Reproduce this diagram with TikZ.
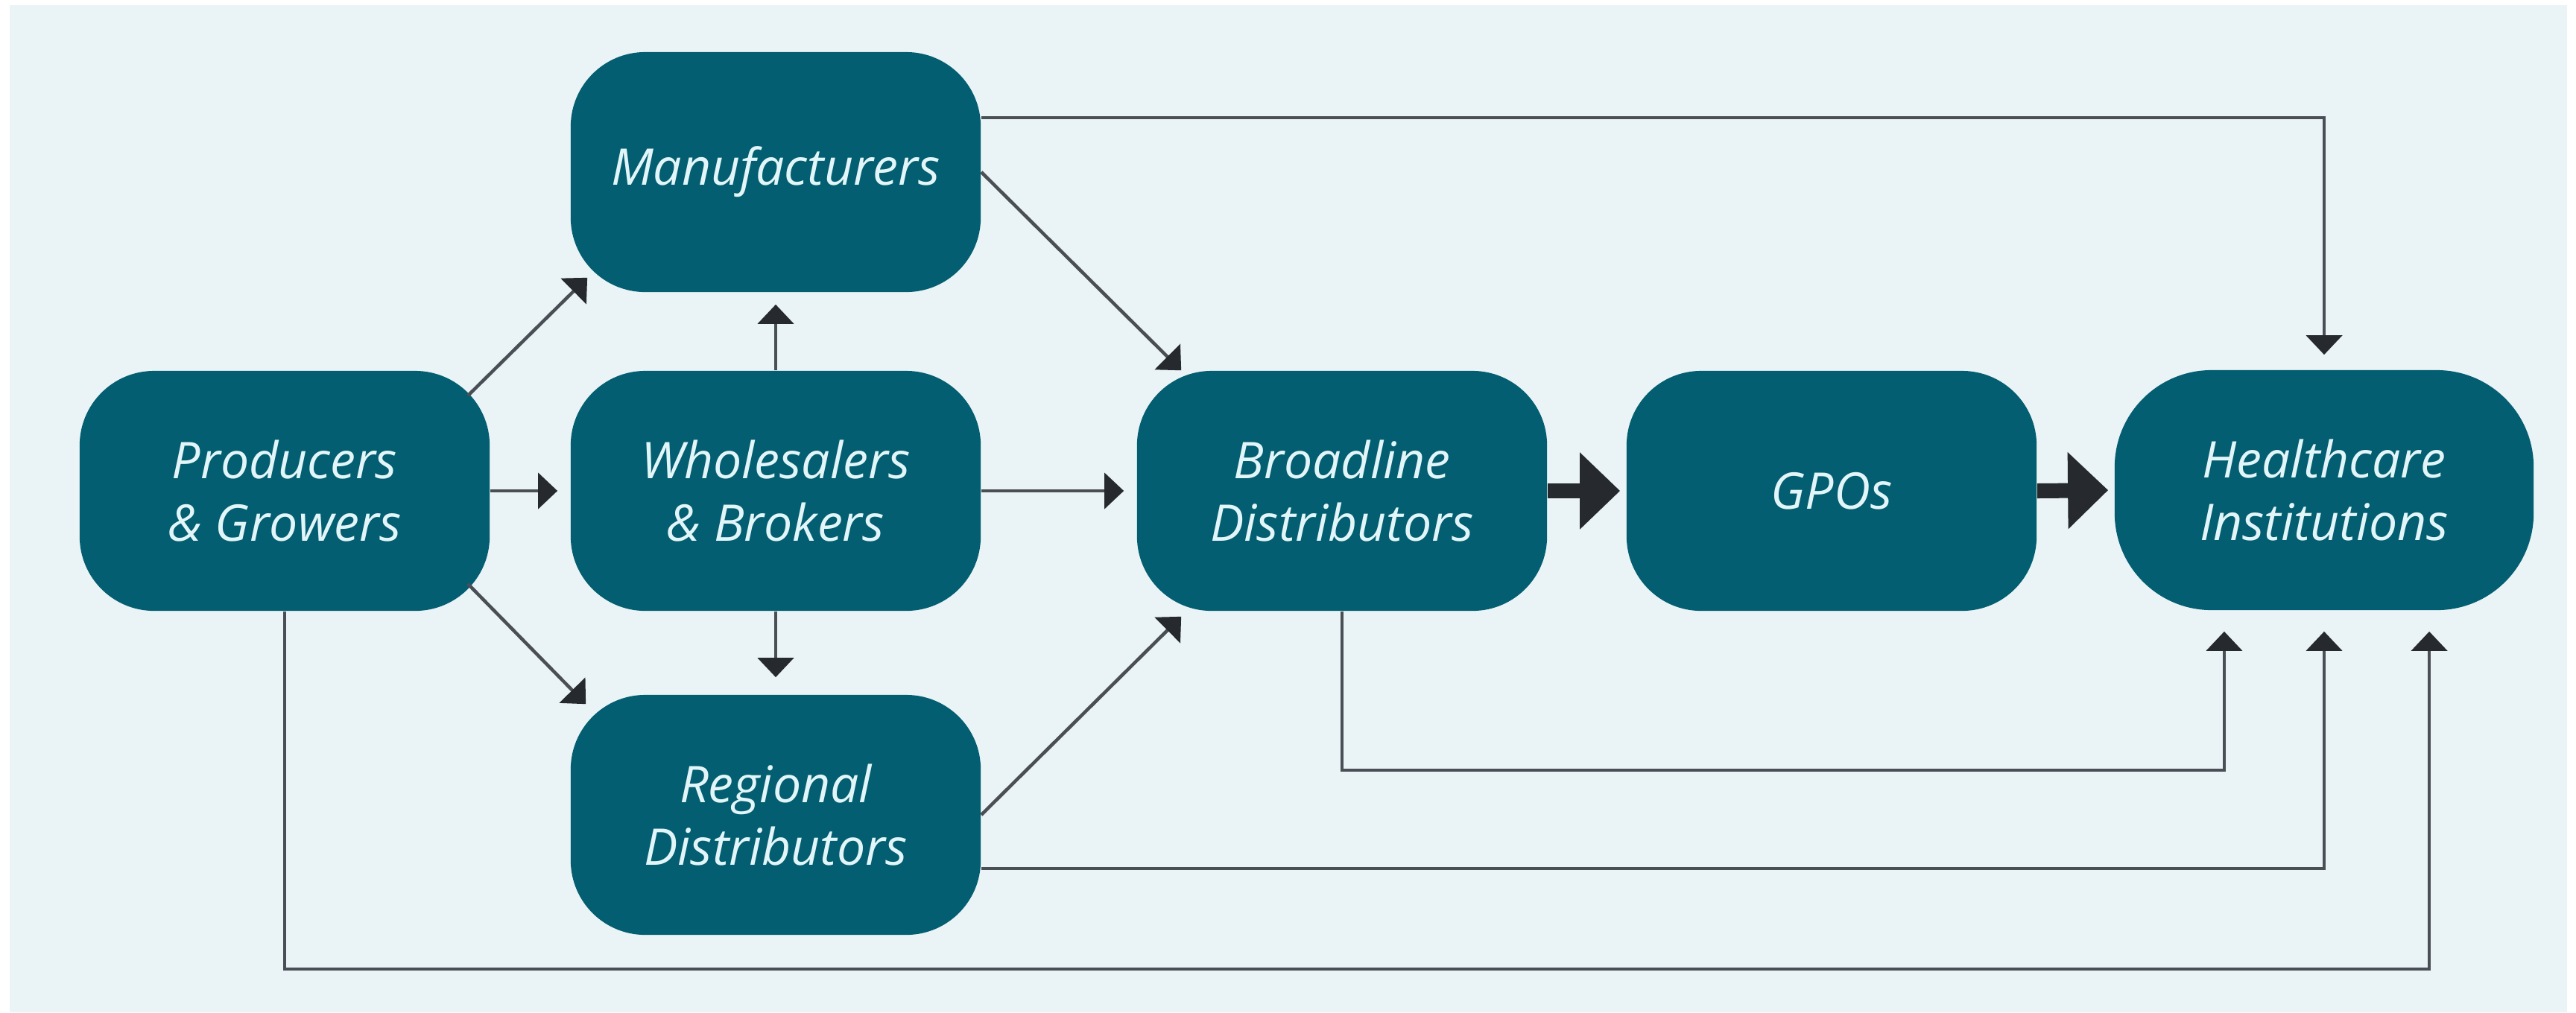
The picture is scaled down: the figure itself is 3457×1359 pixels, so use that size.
\documentclass[tikz,border=0pt]{standalone}
\usepackage{fontspec}
\setmainfont{Open Sans}
\usetikzlibrary{arrows.meta}
\definecolor{bgc}{HTML}{EAF3F5}
\definecolor{nodec}{HTML}{025E70}
\definecolor{txtc}{HTML}{E2F5F8}
\definecolor{linec}{HTML}{4A4F55}
\definecolor{headc}{HTML}{26292E}
\begin{document}
\begin{tikzpicture}[x=0.01cm,y=-0.01cm,
  box/.style={fill=nodec, rounded corners=1cm, minimum width=5.5cm, minimum height=3.22cm,
    text=txtc, font=\fontsize{19.3}{24}\selectfont\itshape, align=center, inner sep=0pt},
  arr/.style={draw=linec, line width=0.045cm, -{Triangle[length=0.26cm, width=0.48cm, color=headc]}},
  bigarr/.style={draw=headc, line width=0.2cm, -{Triangle[length=0.54cm, width=1.0cm, color=headc]}}]
\useasboundingbox (0,0) rectangle (3457,1359);
\fill[white] (0,0) rectangle (3457,1359);
\fill[bgc] (13,7) rectangle (3445,1359);

\node[box] (man)  at (1041,231)  {Manufacturers};
\node[box] (prod) at (382,659)   {Producers\\\& Growers};
\node[box] (whol) at (1041,659)  {Wholesalers\\\& Brokers};
\node[box] (reg)  at (1041,1094) {Regional\\Distributors};
\node[box] (bro)  at (1801,659)  {Broadline\\Distributors};
\node[box] (gpo)  at (2458,659)  {GPOs};
\node[box, rounded corners=1.3cm, minimum width=5.62cm] (hc) at (3119,658) {Healthcare\\Institutions};

% short arrows
\draw[arr] ([xshift=-0.30cm,yshift=-0.34cm]prod.north east) -- ([xshift=0.23cm,yshift=0.20cm]man.south west);
\draw[arr] ([xshift=-0.30cm,yshift=0.37cm]prod.south east) -- ([xshift=0.21cm,yshift=-0.13cm]reg.north west);
\draw[arr, shorten >=0.17cm] (prod.east) -- (whol.west);
\draw[arr, shorten >=0.16cm] (whol.north) -- (man.south);
\draw[arr, shorten >=0.23cm] (whol.south) -- (reg.north);
\draw[arr, shorten >=0.17cm] (whol.east) -- (bro.west);
\draw[arr] (man.east) -- ([xshift=0.60cm]bro.north west);
\draw[arr] (reg.east) -- ([xshift=0.60cm,yshift=-0.07cm]bro.south west);

% thick arrows
\draw[bigarr, shorten >=0.08cm] (bro.east) -- (gpo.west);
\draw[bigarr, shorten >=0.08cm] (gpo.east) -- (hc.west);

% long connectors to healthcare
\draw[arr, shorten >=0.20cm] ([yshift=0.73cm]man.east) -| (hc.north);
\draw[arr, shorten >=0.28cm] (bro.south) -- ++(0,213) -| ([xshift=-1.34cm]hc.south);
\draw[arr, shorten >=0.28cm] ([yshift=-0.72cm]reg.east) -| (hc.south);
\draw[arr, shorten >=0.28cm] (prod.south) -- ++(0,480) -| ([xshift=1.41cm]hc.south);
\end{tikzpicture}
\end{document}
